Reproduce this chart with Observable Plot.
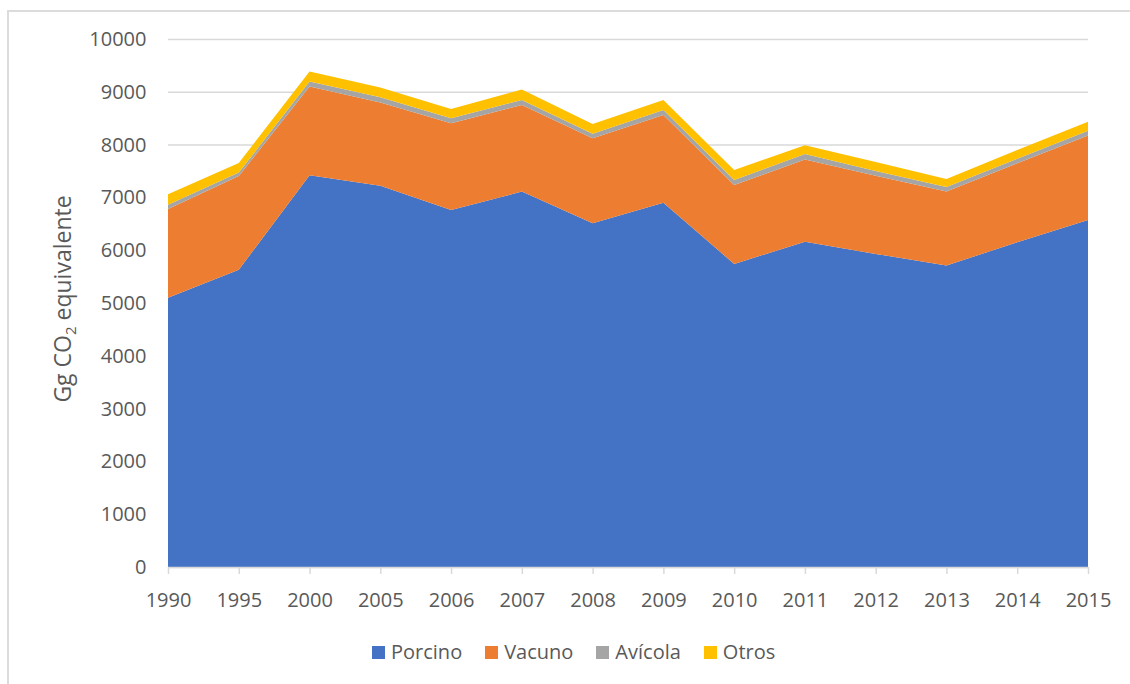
<!DOCTYPE html>
<html><head><meta charset="utf-8">
<script src="https://cdn.jsdelivr.net/npm/d3@7"></script>
<script src="https://cdn.jsdelivr.net/npm/@observablehq/plot@0.6"></script>
<style>
body{margin:0;background:#fff;font-family:"Open Sans",sans-serif;}
#wrap{position:relative;width:1130px;height:684px;overflow:hidden;background:#fff;}
#frame{position:absolute;left:7px;top:10px;width:1300px;height:900px;border-top:2px solid #dcdcdc;border-left:2px solid #dcdcdc;}
#chart{position:absolute;left:0;top:0;}
#legend{position:absolute;top:639px;left:372px;display:flex;gap:23px;font-size:20px;color:#595959;font-family:"Open Sans",sans-serif;line-height:26px;}
.item{display:flex;align-items:center;}
.sw{width:13px;height:13px;margin-right:6px;}
</style></head>
<body>
<div id="wrap"><div id="frame"></div><div id="chart"></div><div id="legend"></div></div>
<script>
const years = ["1990","1995","2000","2005","2006","2007","2008","2009","2010","2011","2012","2013","2014","2015"];
const porcino = [5100,5630,7420,7220,6760,7110,6510,6900,5740,6160,5930,5710,6150,6570];
const vacuno  = [1680,1775,1680,1575,1645,1640,1610,1660,1495,1560,1480,1400,1495,1600];
const avicola = [80,65,95,100,95,95,85,95,95,100,90,85,85,90];
const otros   = [200,180,190,185,175,200,185,190,190,170,170,155,170,175];
const series = ["Porcino","Vacuno","Avícola","Otros"];
const colors = ["#4472C4","#ED7D31","#A5A5A5","#FFC000"];
const yTicks = [0,1000,2000,3000,4000,5000,6000,7000,8000,9000,10000];

const seriesValues = [porcino, vacuno, avicola, otros];
const data = series.flatMap((s, i) => years.map((y, j) => ({year: y, serie: s, value: seriesValues[i][j]})));

const chart = Plot.plot({
  width: 1130, height: 620,
  marginTop: 39, marginBottom: 53, marginLeft: 168, marginRight: 42,
  style: {fontFamily: "Open Sans, sans-serif", fontSize: "20px", color: "#595959", background: "transparent", overflow: "visible"},
  x: {type: "point", domain: years, padding: 0, inset: 0, round: false, label: null},
  y: {domain: [0, 10000], label: null},
  color: {domain: series, range: colors},
  marks: [
    Plot.gridY(yTicks, {stroke: "#d9d9d9", strokeOpacity: 1, strokeWidth: 1.5}),
    Plot.areaY(data, {x: "year", y: "value", fill: "serie", z: "serie", order: series}),
    Plot.ruleY([0], {stroke: "#d9d9d9", strokeWidth: 1.5}),
    Plot.axisX({tickSize: 7, tickPadding: 18, stroke: "#d9d9d9", strokeWidth: 1.5, strokeOpacity: 1, fill: "#595959", fontSize: 20, label: null}),
    Plot.axisY(yTicks, {tickSize: 0, tickPadding: 22, fill: "#595959", fontSize: 20, tickFormat: d => String(d), label: null})
  ]
});
document.getElementById("chart").appendChild(chart);

const svg = d3.select(chart);
const t = svg.append("text")
  .attr("transform", "translate(71,299) rotate(-90)")
  .attr("text-anchor", "middle")
  .attr("font-size", 23)
  .attr("fill", "#595959")
  .attr("font-family", "Open Sans, sans-serif");
t.append("tspan").text("Gg CO");
t.append("tspan").attr("font-size", 15).attr("dy", 5).text("2");
t.append("tspan").attr("dy", -5).text(" equivalente");

const legend = d3.select("#legend");
series.forEach((s, i) => {
  const it = legend.append("div").attr("class", "item");
  it.append("div").attr("class", "sw").style("background", colors[i]);
  it.append("span").text(s);
});
</script>
</body></html>
